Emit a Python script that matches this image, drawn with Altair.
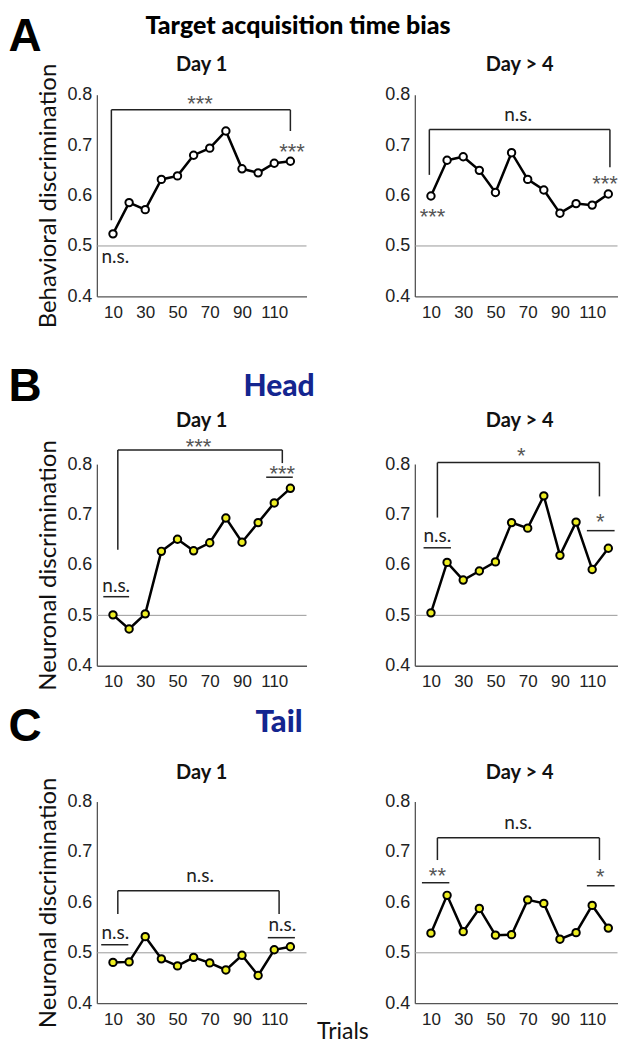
import altair as alt
import pandas as pd

trials = [10, 20, 30, 40, 50, 60, 70, 80, 90, 100, 110, 120]
x_ticks = [10, 30, 50, 70, 90, 110]
y_ticks = [0.4, 0.5, 0.6, 0.7, 0.8]

a_day1 = [0.524, 0.586, 0.572, 0.632, 0.639, 0.680, 0.694, 0.728, 0.653, 0.645, 0.664, 0.668]
a_day4 = [0.599, 0.670, 0.677, 0.650, 0.606, 0.685, 0.632, 0.611, 0.565, 0.584, 0.581, 0.603]
b_day1 = [0.501, 0.473, 0.503, 0.627, 0.651, 0.628, 0.644, 0.693, 0.645, 0.684, 0.723, 0.752]
b_day4 = [0.505, 0.605, 0.570, 0.588, 0.606, 0.684, 0.673, 0.737, 0.619, 0.685, 0.591, 0.633]
c_day1 = [0.481, 0.482, 0.532, 0.488, 0.474, 0.491, 0.480, 0.466, 0.495, 0.455, 0.506, 0.512]
c_day4 = [0.539, 0.614, 0.542, 0.588, 0.535, 0.536, 0.605, 0.598, 0.527, 0.540, 0.594, 0.549]

# brackets: x_left, x_right, y_top, y_left_end, y_right_end
br_a1 = [9, 120, 0.770, 0.551, 0.728]
br_a4 = [9, 121, 0.731, 0.641, 0.656]
br_b1 = [13, 115, 0.828, 0.630, 0.802]
br_b4 = [14, 114.5, 0.803, 0.694, 0.736]
br_c1 = [13, 113, 0.623, 0.577, 0.577]
br_c4 = [14, 114.5, 0.728, 0.684, 0.684]

# short significance lines: x1, x2, y
seg_b1 = [[4, 20, 0.537], [105, 121.5, 0.774]]
seg_b4 = [[5.4, 22.4, 0.634], [106.7, 123.9, 0.668]]
seg_c1 = [[2.7, 19.5, 0.516], [106, 122.8, 0.530]]
seg_c4 = [[4.4, 21.4, 0.639], [106.7, 123.9, 0.633]]

# annotations: x, y, label
ann_a1 = [[64, 0.791, "***"], [121, 0.697, "***"], [11.4, 0.478, "n.s."]]
ann_a4 = [[64, 0.759, "n.s."], [11, 0.567, "***"], [118, 0.632, "***"]]
ann_b1 = [[63, 0.843, "***"], [115, 0.790, "***"], [12, 0.558, "n.s."]]
ann_b4 = [[66, 0.826, "*"], [14, 0.657, "n.s."], [115, 0.696, "*"]]
ann_c1 = [[64, 0.652, "n.s."], [11.5, 0.539, "n.s."], [115, 0.555, "n.s."]]
ann_c4 = [[64, 0.757, "n.s."], [14, 0.662, "**"], [115, 0.661, "*"]]

W, H = 210, 202
W_RIGHT, X_MAX_RIGHT = 203, 125.7
YELLOW = "#eeee22"
NAVY = "#14258f"


def txt(label, x, y, **kw):
    return alt.Chart(pd.DataFrame({"t": [label]})).mark_text(**kw).encode(
        text="t:N", x=alt.value(x), y=alt.value(y))


def panel(vals, fill, br, segs, anns, title, title_y, ytitle=None, extras=(),
          width=W, xmax=130):
    xs = alt.X("x:Q", scale=alt.Scale(domain=[0, xmax], nice=False, zero=False),
               axis=alt.Axis(values=x_ticks, title=None, labelPadding=8, labelFlush=False,
                             labelFontSize=17))
    if ytitle:
        yax = alt.Axis(values=y_ticks, format=".1f", labelPadding=5, titlePadding=6,
                       labelFlush=False, title=ytitle, labelFontSize=18)
    else:
        yax = alt.Axis(values=y_ticks, format=".1f", labelPadding=5, labelFlush=False,
                       title=None, labelFontSize=18)
    ys = alt.Y("y:Q", scale=alt.Scale(domain=[0.4, 0.8], nice=False, zero=False), axis=yax)

    pts = pd.DataFrame({"x": trials, "y": vals})
    ref = alt.Chart(pd.DataFrame({"y": [0.5]})).mark_rule(color="#9a9a9a", strokeWidth=1).encode(y=ys)
    line = alt.Chart(pts).mark_line(color="black", strokeWidth=2.5).encode(x=xs, y=ys)
    dots = alt.Chart(pts).mark_point(shape="circle", filled=True, fill=fill, stroke="black",
                                     strokeWidth=2, size=55, opacity=1).encode(x=xs, y=ys)
    xl, xr, yt, yl, yr = br
    rows = [[xl, xr, yt, yt], [xl, xl, yt, yl], [xr, xr, yt, yr]]
    rows += [[s[0], s[1], s[2], s[2]] for s in segs]
    rdf = pd.DataFrame(rows, columns=["x", "x2", "y", "y2"])
    rules = alt.Chart(rdf).mark_rule(color="#222", strokeWidth=1.5).encode(
        x=xs, x2="x2:Q", y=ys, y2="y2:Q")
    ns = pd.DataFrame([a for a in anns if not a[2].startswith("*")], columns=["x", "y", "t"])
    st = pd.DataFrame([a for a in anns if a[2].startswith("*")], columns=["x", "y", "t"])
    layers = [ref, line, dots, rules]
    if len(ns):
        layers.append(alt.Chart(ns).mark_text(font="Lato", fontSize=19, color="#222",
                                              baseline="middle").encode(x=xs, y=ys, text="t:N"))
    if len(st):
        layers.append(alt.Chart(st).mark_text(font="Liberation Sans", fontSize=22, color="#555",
                                              baseline="middle", dy=5).encode(x=xs, y=ys, text="t:N"))
    layers.append(txt(title, 105, title_y, font="Lato", fontSize=20, fontWeight="bold",
                      align="center", baseline="alphabetic", color="#111"))
    layers += list(extras)
    return alt.layer(*layers).properties(width=width, height=H)


def letter(ch, y):
    return txt(ch, -88.5, y, font="Liberation Sans", fontSize=46, fontWeight="bold",
               align="left", baseline="alphabetic", color="black")


rowA = alt.hconcat(
    panel(a_day1, "white", br_a1, [], ann_a1, "Day 1", -24, "Behavioral discrimination",
          extras=[letter("A", -44),
                  txt("Target acquisition time bias", 201.5, -61, font="Lato", fontSize=25,
                      fontWeight=900, align="center", baseline="alphabetic", color="black")]),
    panel(a_day4, "white", br_a4, [], ann_a4, "Day > 4", -24, width=W_RIGHT, xmax=X_MAX_RIGHT),
    spacing=108.5, bounds="flush")

rowB = alt.hconcat(
    panel(b_day1, YELLOW, br_b1, seg_b1, ann_b1, "Day 1", -37, "Neuronal discrimination",
          extras=[letter("B", -63),
                  txt("Head", 182.5, -68, font="Lato", fontSize=30, fontWeight=900,
                      align="center", baseline="alphabetic", color=NAVY)]),
    panel(b_day4, YELLOW, br_b4, seg_b4, ann_b4, "Day > 4", -37, width=W_RIGHT, xmax=X_MAX_RIGHT),
    spacing=108.5, bounds="flush")

rowC = alt.hconcat(
    panel(c_day1, YELLOW, br_c1, seg_c1, ann_c1, "Day 1", -23, "Neuronal discrimination",
          extras=[letter("C", -61),
                  txt("Tail", 182.5, -70, font="Lato", fontSize=31, fontWeight=900,
                      align="center", baseline="alphabetic", color=NAVY),
                  txt("Trials", 246.5, 238, font="Lato", fontSize=23, align="center",
                      baseline="alphabetic", color="#111")]),
    panel(c_day4, YELLOW, br_c4, seg_c4, ann_c4, "Day > 4", -23, width=W_RIGHT, xmax=X_MAX_RIGHT),
    spacing=108.5, bounds="flush")

chart = alt.vconcat(rowA, alt.vconcat(rowB, rowC, spacing=13), spacing=36).properties(
    padding={"top": 5, "left": 0, "right": 0, "bottom": 2}
).configure_view(stroke=None).configure_axis(
    grid=False, ticks=False, domainColor="#555", domainWidth=1.3,
    labelFont="Liberation Sans", labelColor="#222",
    titleFont="Lato", titleFontSize=24, titleFontWeight="normal", titleColor="#111")

chart.save("out.html", embed_options={"renderer": "svg", "actions": False})
